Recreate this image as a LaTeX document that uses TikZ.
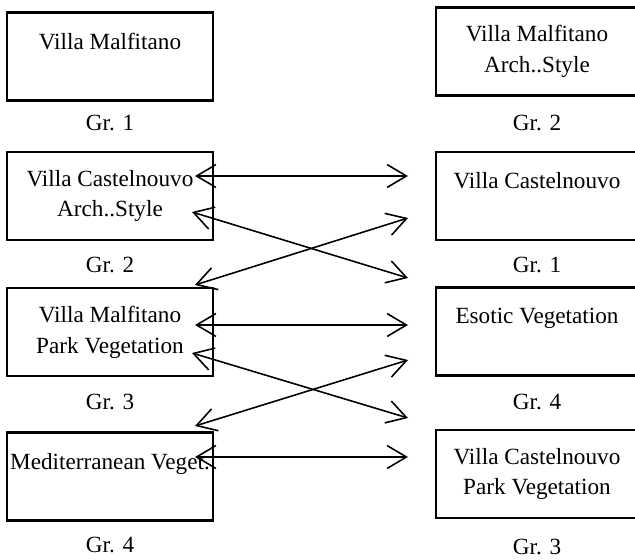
\documentclass[tikz,border=0pt]{standalone}
\usepackage{fontspec}
\setmainfont{Liberation Serif}
\usepackage{tikz}
\usetikzlibrary{arrows.meta,positioning}

\begin{document}
\begin{tikzpicture}[
  grp/.style={draw=black, line width=1.4pt, minimum width=4.12cm, minimum height=1.76cm,
    inner sep=0pt, align=center, font=\fontsize{13.2}{17.5}\selectfont},
  rgrp/.style={grp, minimum width=4.04cm},
  lbl/.style={font=\fontsize{13.2}{16}\selectfont},
  arrow/.style={<->, >={Straight Barb[length=11pt,width=13pt]}, line width=0.9pt}
]
\useasboundingbox (0,0) rectangle (12.7,11.2);
\clip (0,0) rectangle (12.7,11.2);

% Left column
\node[grp] (l1) at (2.2,10.07) {Villa Malfitano\\~};
\node[grp] (l2) at (2.2,7.28) {Villa Castelnouvo\\Arch..Style};
\node[grp] (l3) at (2.2,4.56) {Villa Malfitano\\Park Vegetation};
\node[grp] (l4) at (2.2,1.67) {Mediterranean Veget.\\~};

\node[lbl] (gl1) at (2.2,8.74) {Gr. 1};
\node[lbl] (gl2) at (2.2,5.9) {Gr. 2};
\node[lbl] (gl3) at (2.2,3.16) {Gr. 3};
\node[lbl] (gl4) at (2.2,0.3) {Gr. 4};

% Right column
\node[rgrp] (r1) at (10.74,10.17) {Villa Malfitano\\Arch..Style};
\node[rgrp] (r2) at (10.74,7.28) {Villa Castelnouvo\\~};
\node[rgrp] (r3) at (10.74,4.57) {Esotic Vegetation\\~};
\node[rgrp] (r4) at (10.74,1.72) {Villa Castelnouvo\\Park Vegetation};

\node[lbl] (gr1) at (10.74,8.74) {Gr. 2};
\node[lbl] (gr2) at (10.74,5.9) {Gr. 1};
\node[lbl] (gr3) at (10.74,3.16) {Gr. 4};
\node[lbl] (gr4) at (10.74,0.26) {Gr. 3};

% Arrow ends
\coordinate (la) at (3.9,7.68);  \coordinate (ra) at (8.16,7.68);
\coordinate (lb) at (3.84,6.96); \coordinate (rb) at (8.16,5.64);
\coordinate (rc) at (8.16,6.84); \coordinate (lc) at (3.9,5.5);
\coordinate (ld) at (3.9,4.7);   \coordinate (rd) at (8.16,4.7);
\coordinate (le) at (3.84,4.14); \coordinate (re) at (8.16,2.84);
\coordinate (rf) at (8.16,4.0);  \coordinate (lf) at (3.9,2.68);
\coordinate (lg) at (3.9,2.06);  \coordinate (rg) at (8.16,2.06);

% Connections
\draw[arrow] (la) -- (ra);
\draw[arrow] (lb) -- (rb);
\draw[arrow] (rc) -- (lc);
\draw[arrow] (ld) -- (rd);
\draw[arrow] (le) -- (re);
\draw[arrow] (rf) -- (lf);
\draw[arrow] (lg) -- (rg);

\end{tikzpicture}
\end{document}
